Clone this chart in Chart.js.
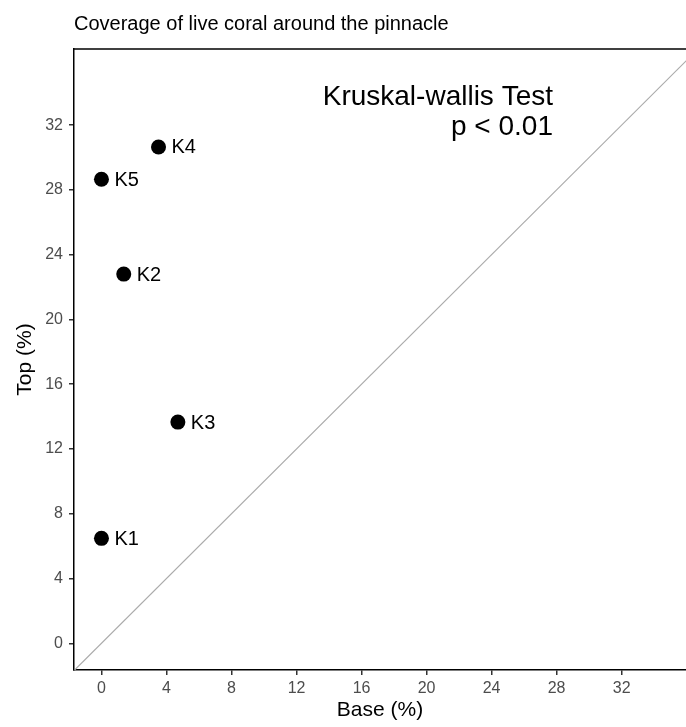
<!DOCTYPE html>
<html>
<head>
<meta charset="utf-8">
<script src="https://cdn.jsdelivr.net/npm/chart.js@4.4.1/dist/chart.umd.min.js"></script>
<style>
  html, body { margin: 0; padding: 0; background: #fff; }
  #chart { display: block; }
</style>
</head>
<body>
<canvas id="chart" width="686" height="727"></canvas>
<script>
// live coral cover (%) per site, base vs top of the pinnacle
var sites = ['K1', 'K2', 'K3', 'K4', 'K5'];
var baseCover = [0, 1.37, 4.7, 3.51, 0];
var topCover = [6.48, 22.8, 13.66, 30.65, 28.66];

var xTicks = [0, 4, 8, 12, 16, 20, 24, 28, 32];
var yTicks = [0, 4, 8, 12, 16, 20, 24, 28, 32];
var xLimits = [-1.69, 35.96];
var yLimits = [-1.65, 36.7];
var oneToOne = [-3, 40];

var titleText = 'Coverage of live coral around the pinnacle';
var testText = ['Kruskal-wallis Test', 'p < 0.01'];

var fontFamily = '"Liberation Sans", Arial, Helvetica, sans-serif';

var points = sites.map(function(s, i) {
    return {x: baseCover[i], y: topCover[i], label: s};
});

var extras = {
    id: 'extras',
    afterDraw: function(chart) {
        var ctx = chart.ctx;
        var area = chart.chartArea;
        var xs = chart.scales.x;
        var ys = chart.scales.y;
        ctx.save();
        // top border of the panel
        ctx.strokeStyle = '#000';
        ctx.lineWidth = 1.5;
        ctx.beginPath();
        ctx.moveTo(area.left, area.top);
        ctx.lineTo(area.right, area.top);
        ctx.stroke();

        ctx.fillStyle = '#000';
        ctx.font = '20px ' + fontFamily;
        ctx.textAlign = 'left';
        ctx.textBaseline = 'alphabetic';
        ctx.fillText(titleText, 74, 30);

        ctx.font = '28px ' + fontFamily;
        ctx.textAlign = 'right';
        ctx.fillText(testText[0], 553, 105);
        ctx.fillText(testText[1], 553, 135);

        ctx.font = '20px ' + fontFamily;
        ctx.textAlign = 'left';
        ctx.textBaseline = 'middle';
        points.forEach(function(p) {
            ctx.fillText(p.label, xs.getPixelForValue(p.x) + 13, ys.getPixelForValue(p.y) + 1);
        });
        ctx.restore();
    }
};

function noPad(axis) {
    axis.paddingLeft = 0;
    axis.paddingRight = 0;
    axis.paddingTop = 0;
    axis.paddingBottom = 0;
}

var tickFont = {family: fontFamily, size: 16};
var titleFont = {family: fontFamily, size: 21};

new Chart(document.getElementById('chart').getContext('2d'), {
    data: {
        datasets: [{
            type: 'scatter',
            data: points,
            pointRadius: 7.5,
            pointHoverRadius: 7.5,
            backgroundColor: '#000',
            borderWidth: 0,
            order: 1
        }, {
            type: 'line',
            data: oneToOne.map(function(v) { return {x: v, y: v}; }),
            borderColor: '#ababab',
            borderWidth: 1.2,
            pointRadius: 0,
            order: 2
        }]
    },
    options: {
        responsive: false,
        animation: false,
        layout: {autoPadding: false, padding: {top: 49, right: 0, left: 0, bottom: 0}},
        plugins: {
            legend: {display: false},
            tooltip: {enabled: false}
        },
        scales: {
            x: {
                type: 'linear',
                min: xLimits[0],
                max: xLimits[1],
                afterBuildTicks: function(axis) {
                    axis.ticks = xTicks.map(function(v) { return {value: v}; });
                },
                afterFit: function(axis) { axis.height = 57; noPad(axis); },
                grid: {display: true, drawOnChartArea: false, drawTicks: true, tickLength: 5, color: '#333', lineWidth: 1.5},
                border: {display: true, color: '#000', width: 1.5},
                ticks: {font: tickFont, color: '#4d4d4d', padding: 4, maxRotation: 0},
                title: {display: true, text: 'Base (%)', font: titleFont, color: '#000', padding: {top: 0, bottom: 4}}
            },
            y: {
                type: 'linear',
                min: yLimits[0],
                max: yLimits[1],
                afterBuildTicks: function(axis) {
                    axis.ticks = yTicks.map(function(v) { return {value: v}; });
                },
                afterFit: function(axis) { axis.width = 74; noPad(axis); },
                grid: {display: true, drawOnChartArea: false, drawTicks: true, tickLength: 5, color: '#333', lineWidth: 1.5},
                border: {display: true, color: '#000', width: 1.5},
                ticks: {font: tickFont, color: '#4d4d4d', padding: 6},
                title: {display: true, text: 'Top (%)', font: titleFont, color: '#000', padding: {top: 13, bottom: 0}}
            }
        }
    },
    plugins: [extras]
});
</script>
</body>
</html>
